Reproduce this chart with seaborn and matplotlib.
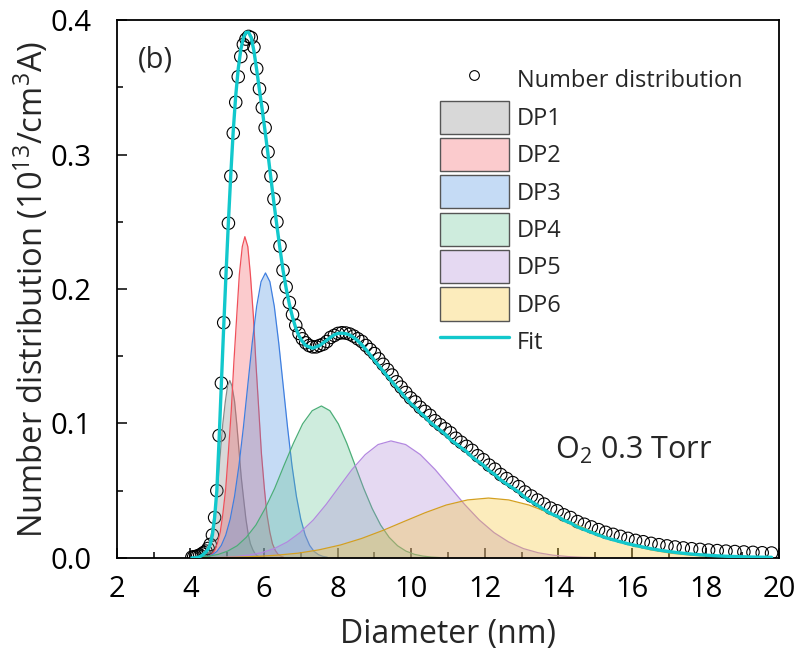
import matplotlib
matplotlib.use("Agg")
import matplotlib.pyplot as plt
import seaborn as sns
from matplotlib.patches import Patch
from matplotlib.lines import Line2D
from matplotlib.colors import to_rgba
from matplotlib.ticker import MultipleLocator

# measured number distribution (circles)
diam = [4.04, 4.09, 4.15, 4.20, 4.255, 4.31, 4.366, 4.423, 4.481, 4.539,
        4.598, 4.658, 4.718, 4.78, 4.842, 4.905, 4.969, 5.033, 5.099, 5.165,
        5.232, 5.30, 5.369, 5.439, 5.51, 5.581, 5.654, 5.727, 5.802, 5.877,
        5.954, 6.031, 6.11, 6.189, 6.27, 6.351, 6.434, 6.517, 6.602, 6.688,
        6.775, 6.863, 6.952, 7.043, 7.134, 7.227, 7.321, 7.416, 7.512, 7.61,
        7.709, 7.809, 7.911, 8.013, 8.118, 8.223, 8.33, 8.438, 8.548, 8.659,
        8.772, 8.886, 9.001, 9.118, 9.237, 9.357, 9.479, 9.602, 9.727, 9.853,
        9.981, 10.111, 10.243, 10.376, 10.511, 10.647, 10.786, 10.926, 11.068, 11.212,
        11.358, 11.505, 11.655, 11.806, 11.96, 12.115, 12.273, 12.432, 12.594, 12.758,
        12.923, 13.091, 13.262, 13.434, 13.609, 13.786, 13.965, 14.146, 14.33, 14.516,
        14.705, 14.896, 15.09, 15.286, 15.485, 15.686, 15.89, 16.097, 16.306, 16.518,
        16.733, 16.95, 17.17, 17.394, 17.62, 17.849, 18.081, 18.316, 18.554, 18.795,
        19.04, 19.287, 19.538, 19.792]

number_dist = [0.0005, 0.0008, 0.001, 0.0015, 0.002, 0.003, 0.004, 0.005, 0.007, 0.010,
               0.017, 0.030, 0.050, 0.091, 0.130, 0.175, 0.212, 0.249, 0.284, 0.316,
               0.339, 0.358, 0.373, 0.382, 0.386, 0.388, 0.387, 0.380, 0.364, 0.349,
               0.335, 0.320, 0.302, 0.284, 0.267, 0.250, 0.232, 0.214, 0.2015, 0.190,
               0.181, 0.173, 0.167, 0.163, 0.160, 0.158, 0.157, 0.157, 0.158, 0.159,
               0.161, 0.164, 0.1655, 0.167, 0.1675, 0.1673, 0.1665, 0.165, 0.163, 0.161,
               0.158, 0.155, 0.152, 0.148, 0.144, 0.140, 0.136, 0.131, 0.127, 0.123,
               0.119, 0.116, 0.112, 0.109, 0.106, 0.102, 0.099, 0.096, 0.093, 0.089,
               0.086, 0.083, 0.080, 0.076, 0.073, 0.069, 0.066, 0.062, 0.059, 0.056,
               0.053, 0.049, 0.046, 0.043, 0.040, 0.037, 0.035, 0.032, 0.030, 0.027,
               0.025, 0.023, 0.021, 0.019, 0.0175, 0.016, 0.0145, 0.013, 0.012, 0.0108,
               0.0098, 0.0089, 0.0081, 0.0074, 0.0068, 0.0063, 0.0058, 0.0054, 0.0050, 0.0047,
               0.0044, 0.0041, 0.0038, 0.0036]

# total fit curve, same diameters
fit_vals = [0.0, 0.0, 0.0001, 0.0004, 0.0009, 0.0017, 0.003, 0.0045, 0.0065, 0.010,
            0.017, 0.030, 0.050, 0.088, 0.130, 0.172, 0.212, 0.250, 0.286, 0.318,
            0.344, 0.364, 0.378, 0.387, 0.391, 0.391, 0.387, 0.377, 0.363, 0.348,
            0.333, 0.317, 0.300, 0.282, 0.264, 0.247, 0.230, 0.214, 0.2005, 0.189,
            0.179, 0.171, 0.165, 0.161, 0.158, 0.157, 0.156, 0.157, 0.158, 0.160,
            0.162, 0.164, 0.166, 0.167, 0.1672, 0.1668, 0.1658, 0.164, 0.1615, 0.1585,
            0.155, 0.151, 0.147, 0.143, 0.139, 0.135, 0.131, 0.127, 0.123, 0.119,
            0.115, 0.112, 0.108, 0.105, 0.101, 0.098, 0.095, 0.092, 0.088, 0.085,
            0.082, 0.079, 0.075, 0.072, 0.069, 0.065, 0.062, 0.058, 0.055, 0.052,
            0.049, 0.045, 0.042, 0.039, 0.036, 0.033, 0.031, 0.028, 0.026, 0.023,
            0.021, 0.019, 0.017, 0.015, 0.0135, 0.012, 0.0105, 0.0092, 0.008, 0.0068,
            0.0058, 0.0049, 0.0041, 0.0034, 0.0028, 0.0023, 0.0019, 0.0015, 0.0012, 0.001,
            0.0008, 0.0006, 0.0005, 0.0004]

# fitted peaks DP1..DP6
dp1_x = [4.20, 4.26, 4.32, 4.38, 4.45, 4.51, 4.57, 4.63, 4.70, 4.76, 4.82, 4.88, 4.95, 5.01, 5.07,
         5.13, 5.20, 5.26, 5.32, 5.38, 5.45, 5.51, 5.57, 5.63, 5.70, 5.76, 5.82, 5.88, 5.95]
dp1_y = [0.0003, 0.0007, 0.0015, 0.0030, 0.0058, 0.0105, 0.0179, 0.0286, 0.0429, 0.0604, 0.0801,
         0.0996, 0.1165, 0.1279, 0.1320, 0.1279, 0.1165, 0.0996, 0.0801, 0.0604, 0.0429, 0.0286,
         0.0179, 0.0105, 0.0058, 0.0030, 0.0015, 0.0007, 0.0003]

dp2_x = [4.43, 4.51, 4.58, 4.66, 4.73, 4.81, 4.88, 4.96, 5.03, 5.11, 5.18, 5.26, 5.33, 5.41, 5.48,
         5.56, 5.63, 5.71, 5.78, 5.86, 5.93, 6.01, 6.08, 6.16, 6.23, 6.31, 6.38, 6.46, 6.53]
dp2_y = [0.0005, 0.0012, 0.0027, 0.0054, 0.0105, 0.0190, 0.0323, 0.0517, 0.0776, 0.1094, 0.1450,
         0.1804, 0.2109, 0.2316, 0.2390, 0.2316, 0.2109, 0.1804, 0.1450, 0.1094, 0.0776, 0.0517,
         0.0323, 0.0190, 0.0105, 0.0054, 0.0027, 0.0012, 0.0005]

dp3_x = [4.36, 4.48, 4.60, 4.72, 4.84, 4.96, 5.08, 5.20, 5.32, 5.44, 5.56, 5.68, 5.80, 5.92, 6.04,
         6.16, 6.28, 6.40, 6.52, 6.64, 6.76, 6.88, 7.00, 7.12, 7.24, 7.36, 7.48, 7.60, 7.72]
dp3_y = [0.0005, 0.0011, 0.0024, 0.0048, 0.0093, 0.0169, 0.0287, 0.0459, 0.0688, 0.0971, 0.1286,
         0.1600, 0.1871, 0.2055, 0.2120, 0.2055, 0.1871, 0.1600, 0.1286, 0.0971, 0.0688, 0.0459,
         0.0287, 0.0169, 0.0093, 0.0048, 0.0024, 0.0011, 0.0005]

dp4_x = [4.25, 4.50, 4.76, 5.01, 5.27, 5.52, 5.78, 6.03, 6.29, 6.54, 6.80, 7.05, 7.31, 7.56,
         7.79, 8.02, 8.25, 8.48, 8.71, 8.94, 9.17, 9.40, 9.63, 9.86, 10.09, 10.32, 10.55, 10.78]
dp4_y = [0.0006, 0.0013, 0.0026, 0.0050, 0.0090, 0.0153, 0.0244, 0.0367, 0.0517, 0.0685, 0.0853,
         0.0997, 0.1095, 0.1130, 0.1095, 0.0997, 0.0853, 0.0685, 0.0517, 0.0367, 0.0244, 0.0153,
         0.0090, 0.0050, 0.0026, 0.0013, 0.0006, 0.0002]

dp5_x = [4.52, 4.87, 5.22, 5.57, 5.93, 6.28, 6.63, 6.98, 7.34, 7.69, 8.04, 8.39, 8.75, 9.10, 9.45,
         9.85, 10.25, 10.65, 11.05, 11.45, 11.85, 12.25, 12.65, 13.05, 13.45, 13.85, 14.25, 14.65, 15.05]
dp5_y = [0.0002, 0.0004, 0.0010, 0.0020, 0.0038, 0.0069, 0.0118, 0.0188, 0.0282, 0.0398, 0.0528,
         0.0657, 0.0768, 0.0843, 0.0870, 0.0843, 0.0768, 0.0657, 0.0528, 0.0398, 0.0282, 0.0188,
         0.0118, 0.0069, 0.0038, 0.0020, 0.0010, 0.0004, 0.0002]

dp6_x = [4.05, 4.63, 5.20, 5.78, 6.35, 6.93, 7.50, 8.08, 8.65, 9.23, 9.80, 10.38, 10.95, 11.53, 12.10,
         12.65, 13.20, 13.75, 14.30, 14.85, 15.40, 15.95, 16.50, 17.05, 17.60, 18.15, 18.70, 19.25, 19.80]
dp6_y = [0.0001, 0.0002, 0.0005, 0.0010, 0.0020, 0.0035, 0.0060, 0.0096, 0.0144, 0.0204, 0.0270,
         0.0336, 0.0393, 0.0431, 0.0445, 0.0431, 0.0393, 0.0336, 0.0270, 0.0204, 0.0144, 0.0096,
         0.0060, 0.0035, 0.0020, 0.0010, 0.0005, 0.0002, 0.0001]

peak_labels = ["DP1", "DP2", "DP3", "DP4", "DP5", "DP6"]
x_ticks = [2, 4, 6, 8, 10, 12, 14, 16, 18, 20]
y_ticks = [0.0, 0.1, 0.2, 0.3, 0.4]
y_tick_labels = ["0.0", "0.1", "0.2", "0.3", "0.4"]

fill_colors = ["#808080", "#f2545b", "#418ade", "#5fc391", "#ac84d7", "#f8c323"]
edge_colors = ["#8a8a8a", "#f0505a", "#3f7fe0", "#4cae78", "#b388e0", "#d4a020"]
fit_color = "#12c8cc"

sns.set_theme(style="ticks")
plt.rcParams["font.family"] = ["Open Sans", "DejaVu Sans"]
plt.rcParams["mathtext.fontset"] = "custom"
plt.rcParams["mathtext.rm"] = "Open Sans"
plt.rcParams["mathtext.it"] = "Open Sans:italic"

fig, ax = plt.subplots(figsize=(8, 6.54), dpi=100)
fig.subplots_adjust(left=0.146, right=0.974, top=0.969, bottom=0.147)

# circles go under the peak fills
sns.scatterplot(x=diam, y=number_dist, ax=ax, marker="o", s=80,
                facecolor="none", edgecolor="black", linewidth=0.8,
                zorder=1, legend=False)

peaks = [(dp1_x, dp1_y), (dp2_x, dp2_y), (dp3_x, dp3_y),
         (dp4_x, dp4_y), (dp5_x, dp5_y), (dp6_x, dp6_y)]
for (px, py), fc, ec in zip(peaks, fill_colors, edge_colors):
    ax.fill_between(px, py, 0, color=fc, alpha=0.3, lw=0, zorder=2)
    sns.lineplot(x=px, y=py, ax=ax, color=ec, lw=0.9, zorder=2,
                 estimator=None, sort=False)

sns.lineplot(x=diam, y=fit_vals, ax=ax, color=fit_color, lw=2.4, zorder=3,
             estimator=None, sort=False)

ax.set_xlim(2, 20)
ax.set_ylim(0, 0.4)
ax.set_xticks(x_ticks)
ax.set_yticks(y_ticks)
ax.set_yticklabels(y_tick_labels)
ax.xaxis.set_minor_locator(MultipleLocator(1))
ax.yaxis.set_minor_locator(MultipleLocator(0.05))
ax.set_axisbelow(True)
ax.tick_params(which="both", direction="in", top=False, right=False,
               colors="black", labelsize=21, width=1.1)
ax.tick_params(which="major", length=7)
ax.tick_params(which="minor", length=4)
ax.tick_params(axis="x", which="major", pad=12)
ax.tick_params(axis="y", which="major", pad=18)
for sp in ax.spines.values():
    sp.set_color("black")
    sp.set_linewidth(1.3)

ax.set_xlabel("Diameter (nm)", fontsize=23)
ax.set_ylabel("Number distribution (10$^{13}$/cm$^{3}$A)", fontsize=23.5)
ax.xaxis.set_label_coords(0.5, -0.112)
ax.yaxis.set_label_coords(-0.099, 0.5)

ax.text(0.032, 0.926, "(b)", transform=ax.transAxes, fontsize=21, va="center")
ax.text(13.9, 0.080, "O$_2$ 0.3 Torr", fontsize=22, va="center")

handles = [Line2D([], [], ls="none", marker="o", ms=7, mfc="none", mec="black", mew=0.8)]
for fc in fill_colors:
    handles.append(Patch(facecolor=to_rgba(fc, 0.3), edgecolor="#555555", lw=1.0))
handles.append(Line2D([], [], color=fit_color, lw=2.4))
ax.legend(handles, ["Number distribution"] + peak_labels + ["Fit"],
          loc="upper left", bbox_to_anchor=(0.488, 0.92), frameon=False,
          fontsize=17, handlelength=2.9, handleheight=1.78, labelspacing=0.18,
          handletextpad=0.35, borderpad=0, borderaxespad=0)

fig.savefig("out.png", dpi=100)
